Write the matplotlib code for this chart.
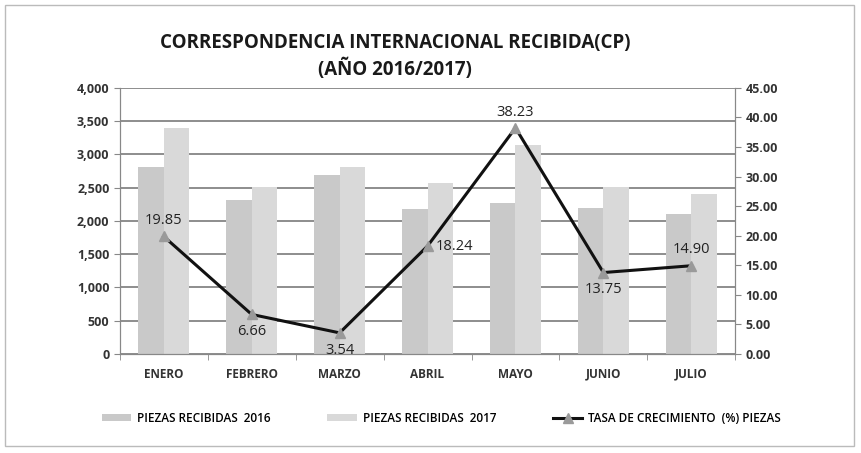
import numpy as np
import matplotlib
matplotlib.use("Agg")
import matplotlib.pyplot as plt
from matplotlib.patches import Rectangle

# data
meses = ["ENERO", "FEBRERO", "MARZO", "ABRIL", "MAYO", "JUNIO", "JULIO"]
piezas_2016 = [2810, 2315, 2690, 2185, 2265, 2190, 2100]
piezas_2017 = [3390, 2515, 2805, 2565, 3145, 2510, 2410]
tasa = [19.85, 6.66, 3.54, 18.24, 38.23, 13.75, 14.90]
# where each data label sits relative to its point
label_pos = ["above", "below", "below", "right", "above", "below", "above"]

plt.rcParams["font.family"] = ["Open Sans", "DejaVu Sans"]

fig = plt.figure(figsize=(8.62, 4.53), dpi=100)
ax = fig.add_axes([0.139, 0.219, 0.714, 0.587])
ax2 = ax.twinx()

x = np.arange(len(meses))
w = 0.29
ax.bar(x - w / 2, piezas_2016, w, color="#c9c9c9", label="PIEZAS RECIBIDAS  2016", zorder=2)
ax.bar(x + w / 2, piezas_2017, w, color="#d9d9d9", label="PIEZAS RECIBIDAS  2017", zorder=2)

ax.set_xlim(-0.5, len(meses) - 0.5)
ax.set_ylim(0, 4000)
ax.set_yticks(np.arange(0, 4001, 500))
ax.set_yticklabels([f"{v:,}" for v in range(0, 4001, 500)], fontsize=9, fontweight="bold", color="#333333")
ax.yaxis.grid(True, color="#7a7a7a", linewidth=1.2, zorder=0)
ax.set_axisbelow(True)
ax.set_xticks(x)
ax.set_xticklabels(meses, fontsize=8.5, fontweight="bold", color="#333333")
ax.tick_params(axis="x", length=0, pad=10)
ax.set_xticks(np.arange(-0.5, len(meses)), minor=True)
ax.tick_params(axis="x", which="minor", length=4, color="#888888")
ax.tick_params(axis="y", length=4, color="#888888")

ax2.plot(x, tasa, color="#111111", linewidth=2.2, marker="^", markersize=7,
         markerfacecolor="#9a9a9a", markeredgecolor="#9a9a9a", zorder=5,
         label="TASA DE CRECIMIENTO  (%) PIEZAS")
ax2.set_ylim(0, 45)
ax2.set_yticks(np.arange(0, 46, 5))
ax2.set_yticklabels([f"{v:.2f}" for v in range(0, 46, 5)], fontsize=9, fontweight="bold", color="#333333")
ax2.tick_params(axis="y", length=4, color="#888888")

for i, (v, p) in enumerate(zip(tasa, label_pos)):
    if p == "above":
        ax2.annotate(f"{v:.2f}", (i, v), xytext=(0, 6), textcoords="offset points",
                     ha="center", va="bottom", fontsize=10.5, color="#222222")
    elif p == "below":
        ax2.annotate(f"{v:.2f}", (i, v), xytext=(0, -7), textcoords="offset points",
                     ha="center", va="top", fontsize=10.5, color="#222222")
    else:
        ax2.annotate(f"{v:.2f}", (i, v), xytext=(6, 0), textcoords="offset points",
                     ha="left", va="center", fontsize=10.5, color="#222222")

for a in (ax, ax2):
    a.spines["top"].set_visible(False)
    for s in ("left", "right", "bottom"):
        a.spines[s].set_color("#888888")

fig.text(0.458, 0.905, "CORRESPONDENCIA INTERNACIONAL RECIBIDA(CP)", ha="center", va="center",
         fontsize=13.5, fontweight="bold", color="#1a1a1a")
fig.text(0.458, 0.848, "(AÑO 2016/2017)", ha="center", va="center",
         fontsize=13.5, fontweight="bold", color="#1a1a1a")

h1, l1 = ax.get_legend_handles_labels()
h2, l2 = ax2.get_legend_handles_labels()
fig.legend(h1 + h2, l1 + l2, loc="center", bbox_to_anchor=(0.512, 0.077), ncol=3,
           frameon=False, handlelength=2.5, handleheight=0.5, handletextpad=0.5,
           columnspacing=4.8, prop={"weight": "semibold", "size": 8.5})

fig.patches.append(Rectangle((0.006, 0.015), 0.985, 0.975, transform=fig.transFigure,
                             fill=False, edgecolor="#bbbbbb", linewidth=1))

fig.savefig("out.png", dpi=100)
